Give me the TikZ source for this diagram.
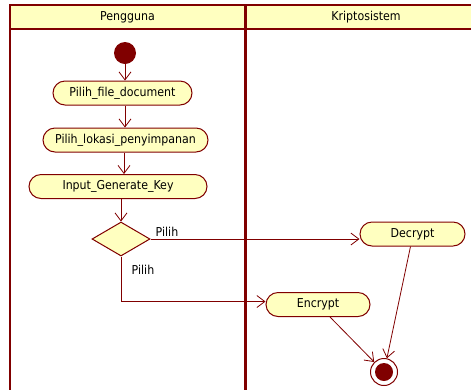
\documentclass[tikz,border=0pt]{standalone}
\usepackage{fontspec}
\setmainfont{DejaVu Sans Condensed}
\usetikzlibrary{arrows.meta,shapes.geometric,shapes.misc}
\definecolor{umlred}{HTML}{800000}
\definecolor{umlfill}{HTML}{FFFFC0}
\begin{document}
\begin{tikzpicture}[x=1bp,y=-1bp,
  activity/.style={rounded rectangle, draw=umlred, fill=umlfill, line width=1bp,
    minimum height=24bp, inner sep=0pt, font=\fontsize{12.3}{14}\selectfont},
  decision/.style={diamond, draw=umlred, fill=umlfill, line width=1bp,
    minimum width=58bp, minimum height=34bp, inner sep=0pt},
  startnode/.style={circle, fill=umlred, minimum size=22bp, inner sep=0pt},
  endnode/.style={circle, draw=umlred, fill=white, line width=1bp, minimum size=27bp, inner sep=0pt},
  flow/.style={draw=umlred, line width=0.8bp, -{Straight Barb[length=8bp,width=12bp]}},
  guard/.style={font=\fontsize{12.3}{14}\selectfont, inner sep=0pt},
  lanetitle/.style={font=\fontsize{12.3}{14}\selectfont, inner sep=0pt},
  laneline/.style={draw=umlred, line width=2bp}
]
\useasboundingbox (0,0) rectangle (471,389);

% swimlanes
\fill[umlfill] (10,5) rectangle (490,29);
\draw[laneline] (10,400) -- (10,5) -- (490,5);
\draw[laneline] (10,29) -- (490,29);
\draw[umlred, line width=3.5bp] (245.5,5) -- (245.5,400);
\node[lanetitle] (laneA) at (127.5,17.5) {Pengguna};
\node[lanetitle] (laneB) at (366,17.5) {Kriptosistem};

% activity nodes
\node[startnode] (init) at (125,53) {};
\node[activity, minimum width=139bp] (doc) at (122.5,93) {Pilih\_file\_document};
\node[activity, minimum width=165bp] (lok) at (125.5,140) {Pilih\_lokasi\_penyimpanan};
\node[activity, minimum width=178bp] (key) at (118,186.5) {Input\_Generate\_Key};
\node[decision] (dia) at (121,239) {};
\node[activity, minimum width=105bp] (dec) at (412.5,234) {Decrypt};
\node[activity, minimum width=104bp] (enc) at (318,304.5) {Encrypt};
\node[endnode] (fin) at (384,372) {};
\fill[umlred] (fin.center) circle (9bp);

% transitions
\draw[flow] (init.south -| 125,0) -- (125,0 |- doc.north);
\draw[flow] (doc.south -| 125,0) -- (125,0 |- lok.north);
\draw[flow] (lok.south -| 124,0) -- (124,0 |- key.north);
\draw[flow] (key.south -| dia.north) -- (dia.north);
\draw[flow] (dia.east) -- (dia.east -| dec.west);
\draw[flow] (dia.south) |- ([yshift=3bp]enc.west);
\draw[flow] ([xshift=-2bp]dec.south) -- (fin);
\draw[flow] ([xshift=12bp]enc.south) -- (fin);

% guards
\node[guard] (g1) at (167,232) {Pilih};
\node[guard] (g2) at (143,270) {Pilih};
\end{tikzpicture}
\end{document}
